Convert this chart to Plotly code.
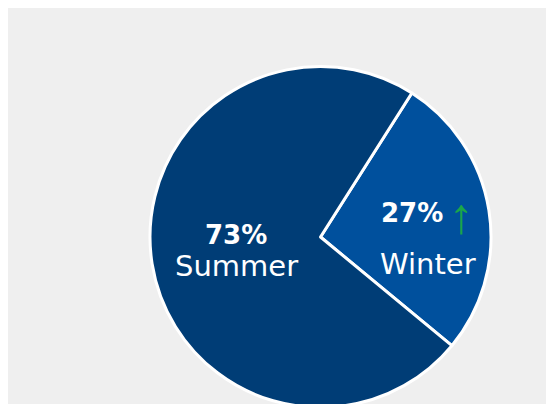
import plotly.graph_objects as go

labels = ["Winter", "Summer"]
values = [27, 73]
colors = ["#00509d", "#003d76"]
pct_text = ["27%", "73%"]

W, H = 554, 404
OFF = 8  # page body margin
cx, cy, r = 320.5 - OFF, 237 - OFF, 170.5

fig = go.Figure(go.Pie(
    labels=labels, values=values, sort=False, direction="clockwise",
    rotation=32.4, textinfo="none", hoverinfo="label+percent",
    marker=dict(colors=colors, line=dict(color="white", width=3)),
    domain=dict(x=[(cx - r) / W, (cx + r) / W], y=[(H - cy - r) / H, (H - cy + r) / H]),
    showlegend=False,
))

font = "DejaVu Sans, sans-serif"
def px(x):
    return (x - OFF) / W
def py(y):
    return 1 - (y - OFF) / H

anns = [
    dict(x=px(236), y=py(235), text="<b>" + pct_text[1] + "</b>", font=dict(size=26, color="white", family=font)),
    dict(x=px(236), y=py(266), text=labels[1], font=dict(size=29, color="white", family=font)),
    dict(x=px(412), y=py(213), text="<b>" + pct_text[0] + "</b>", font=dict(size=26, color="white", family=font)),
    dict(x=px(461), y=py(216), text="↑", font=dict(size=50, color="#1aa64a", family="Liberation Sans")),
    dict(x=px(428), y=py(264), text=labels[0], font=dict(size=29, color="white", family=font)),
]
for a in anns:
    a.update(xref="paper", yref="paper", showarrow=False, xanchor="center", yanchor="middle")

fig.update_layout(
    width=W, height=H, margin=dict(l=0, r=0, t=0, b=0),
    paper_bgcolor="#efefef", plot_bgcolor="#efefef",
    annotations=anns,
)
fig.write_html("out.html")
